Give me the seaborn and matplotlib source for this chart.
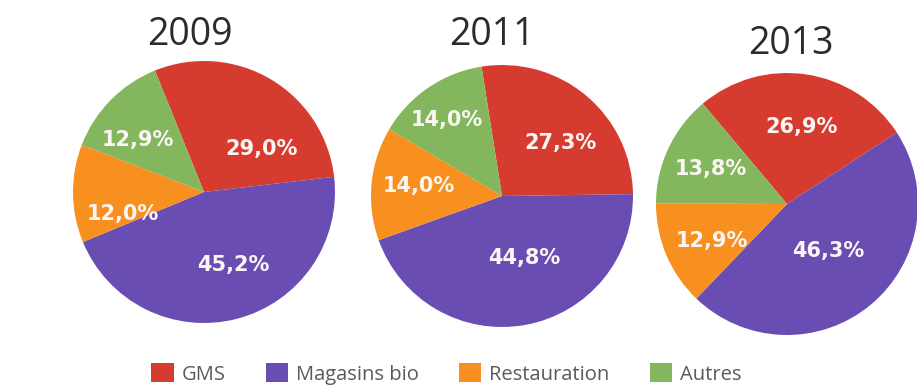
import numpy as np
import matplotlib
matplotlib.use("Agg")
import matplotlib.pyplot as plt
from matplotlib.patches import Patch
import seaborn as sns

# Data
years = ["2009", "2011", "2013"]
categories = ["GMS", "Magasins bio", "Restauration", "Autres"]
gms = [29.0, 27.3, 26.9]
magasins_bio = [45.2, 44.8, 46.3]
restauration = [12.0, 14.0, 12.9]
autres = [12.9, 14.0, 13.8]

# Styling / layout
colors = ["#d63b30", "#6a4db2", "#f7901e", "#83b65d"]
start_angles = [112, 99, 130]
centers = [(204, 195), (502, 191), (787, 183)]
radius = 131
title_pos = [(190, 352), (492, 352), (791, 343)]
# label placement (angle in degrees, distance as fraction of radius) per slice
label_polar = [
    [(37, 0.55), (-68, 0.60), (195, 0.64), (142, 0.64)],
    [(42, 0.60), (-70, 0.50), (173, 0.64), (126, 0.72)],
    [(79, 0.60), (-49, 0.48), (206, 0.64), (155, 0.64)],
]

sns.set_theme(style="white")
plt.rcParams["font.family"] = ["Open Sans", "DejaVu Sans"]

fig = plt.figure(figsize=(9.17, 3.87), dpi=100)
ax = fig.add_axes([0, 0, 1, 1])

series = list(zip(gms, magasins_bio, restauration, autres))
for i, year in enumerate(years):
    vals = series[i]
    ax.pie(vals, colors=colors, startangle=start_angles[i], counterclock=False,
           center=centers[i], radius=radius, normalize=True,
           wedgeprops=dict(linewidth=0))
    cx, cy = centers[i]
    for v, (ang, frac) in zip(vals, label_polar[i]):
        a = np.deg2rad(ang)
        ax.text(cx + frac * radius * np.cos(a), cy + frac * radius * np.sin(a),
                f"{v:.1f}%".replace(".", ","), color="#fbf6f4",
                fontsize=15, fontweight="bold", family=["DejaVu Sans"],
                ha="center", va="center")
    tx, ty = title_pos[i]
    ax.text(tx, ty, year, fontsize=27, color="#2b2b2b", ha="center", va="center")

ax.set_xlim(0, 917)
ax.set_ylim(0, 387)
ax.set_aspect("equal")
ax.axis("off")

handles = [Patch(facecolor=c, edgecolor="none") for c in colors]
leg = fig.legend(handles, categories, loc="center", bbox_to_anchor=(0.487, 0.034),
                 ncol=4, frameon=False, fontsize=14.5, handlelength=1.1,
                 handleheight=1.1, handletextpad=0.4, columnspacing=2.0)
for t in leg.get_texts():
    t.set_color("#5a5a5a")

fig.savefig("out.png", dpi=100, facecolor="white")
